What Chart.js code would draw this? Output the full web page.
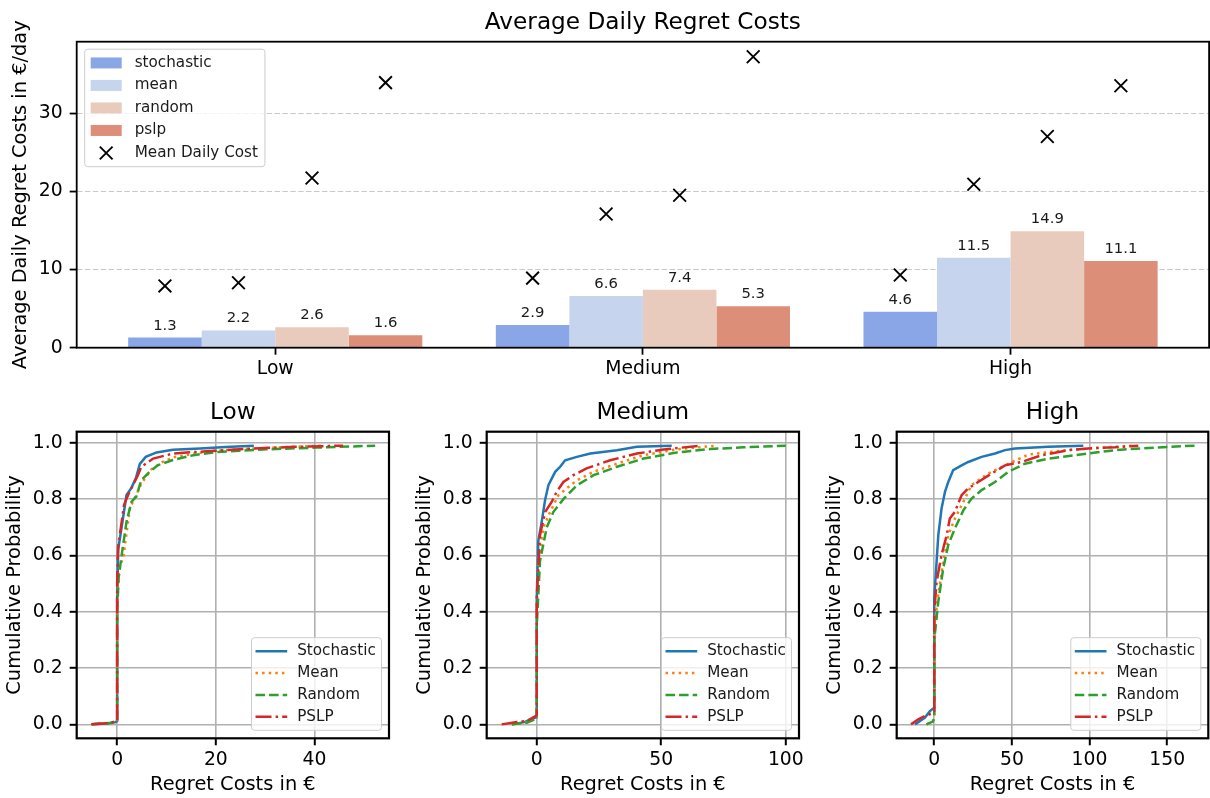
<!DOCTYPE html>
<html>
<head>
<meta charset="utf-8">
<script src="https://cdn.jsdelivr.net/npm/chart.js@4.4.0/dist/chart.umd.min.js"></script>
<style>
  html, body { margin: 0; background: #fff; overflow: hidden; }
  #fig { position: relative; width: 1210px; height: 798px; overflow: hidden; }
  canvas { position: absolute; }
</style>
</head>
<body>
<div id="fig">
  <canvas id="bars" width="1220" height="390" style="left:0;top:0"></canvas>
  <canvas id="cdfLow" width="400" height="408" style="left:0;top:390px"></canvas>
  <canvas id="cdfMedium" width="400" height="408" style="left:410px;top:390px"></canvas>
  <canvas id="cdfHigh" width="390" height="408" style="left:820px;top:390px"></canvas>
</div>
<script>
// ---- data ----
const categories = ["Low", "Medium", "High"];
const methods = ["stochastic", "mean", "random", "pslp"];
const barColors = ["#8aa6e6", "#c6d4ee", "#e9cbbd", "#dc8e79"];

// average daily regret costs (bars), per category
const avgStochastic = [1.3, 2.9, 4.6];
const avgMean = [2.2, 6.6, 11.5];
const avgRandom = [2.6, 7.4, 14.9];
const avgPslp = [1.6, 5.3, 11.1];

// mean daily cost (x markers), per category
const dailyStochastic = [7.9, 8.9, 9.3];
const dailyMean = [8.3, 17.1, 20.9];
const dailyRandom = [21.7, 19.5, 27.0];
const dailyPslp = [33.9, 37.2, 33.5];

const barTicks = [0, 10, 20, 30];
const probTicks = [0, 0.2, 0.4, 0.6, 0.8, 1.0];
const lowTicks = [0, 20, 40];
const mediumTicks = [0, 50, 100];
const highTicks = [0, 50, 100, 150];

// CDF curves: [regret cost, cumulative probability]
const cdfNames = ["Stochastic", "Mean", "Random", "PSLP"];
const cdfColors = ["#1f77b4", "#ff7f0e", "#2ca02c", "#d62728"];
const cdfDashes = [[], [2.5, 4.1], [9.5, 4.1], [16, 4.1, 2.5, 4.1]];

const lowStochastic = [[-5.2, 0], [-2, 0.003], [-0.3, 0.008], [0, 0.012], [0, 0.45], [0.2, 0.62], [0.9, 0.70], [1.9, 0.815], [2.9, 0.84], [3.8, 0.875], [4.6, 0.925], [5.8, 0.95], [8, 0.966], [11.3, 0.975], [16.8, 0.98], [22, 0.985], [27.7, 0.99]];
const lowMean = [[-5.2, 0], [-1, 0.005], [0, 0.012], [0, 0.45], [0.4, 0.55], [1.3, 0.6], [1.9, 0.68], [2.6, 0.77], [3.5, 0.8], [4.9, 0.855], [6.9, 0.905], [9, 0.93], [11.3, 0.948], [15, 0.96], [19.5, 0.972], [28, 0.98], [37, 0.987], [42, 0.99]];
const lowRandom = [[-5.2, 0], [-1, 0.006], [0, 0.015], [0, 0.4], [0.3, 0.52], [0.9, 0.60], [1.9, 0.72], [2.9, 0.79], [3.9, 0.81], [4.9, 0.868], [6.6, 0.898], [8.3, 0.921], [11.3, 0.939], [15.4, 0.956], [20.1, 0.967], [30.3, 0.977], [40.5, 0.983], [52.3, 0.99]];
const lowPslp = [[-5.2, 0], [-1.5, 0.005], [0, 0.012], [0, 0.5], [0.2, 0.63], [1.4, 0.78], [2.2, 0.814], [3.2, 0.85], [4.2, 0.885], [4.9, 0.915], [7.3, 0.944], [11.3, 0.962], [18.1, 0.97], [27.6, 0.98], [35, 0.985], [45.8, 0.99]];

const mediumStochastic = [[-10, 0], [-5, 0.008], [-0.3, 0.025], [0, 0.03], [0, 0.45], [0.6, 0.65], [2, 0.72], [3.4, 0.80], [4.7, 0.85], [6, 0.873], [7.4, 0.897], [9.4, 0.915], [11.4, 0.938], [16.1, 0.95], [21.5, 0.962], [32.2, 0.974], [40.2, 0.986], [54.2, 0.99]];
const mediumMean = [[-10, 0], [-4, 0.008], [-0.3, 0.02], [0, 0.025], [0, 0.4], [0.6, 0.58], [2.7, 0.70], [5.4, 0.755], [8.7, 0.814], [12, 0.838], [16.1, 0.867], [22.8, 0.897], [32.2, 0.926], [42.9, 0.956], [56.3, 0.977], [72.4, 0.99]];
const mediumRandom = [[-10, 0], [-4, 0.006], [-0.3, 0.02], [0, 0.025], [0, 0.35], [1.3, 0.58], [4, 0.70], [6.7, 0.755], [10.7, 0.80], [16.1, 0.849], [22.8, 0.885], [32.2, 0.915], [42.9, 0.944], [56.3, 0.966], [69.7, 0.978], [83.1, 0.984], [100, 0.99]];
const mediumPslp = [[-14.1, 0], [-8, 0.008], [-4, 0.012], [-0.3, 0.03], [0, 0.035], [0, 0.45], [1.3, 0.672], [3.4, 0.755], [6, 0.79], [8, 0.826], [10.7, 0.861], [14.7, 0.885], [20, 0.909], [29.5, 0.938], [40.2, 0.962], [50.9, 0.976], [65.6, 0.99]];

const highStochastic = [[-12.4, 0], [-6, 0.024], [-2.8, 0.047], [0, 0.059], [0, 0.45], [1.5, 0.578], [2.6, 0.672], [4.7, 0.767], [6.9, 0.826], [9, 0.861], [12.2, 0.903], [17.6, 0.92], [21.9, 0.932], [30.5, 0.95], [39.1, 0.962], [45.6, 0.974], [52, 0.98], [73.5, 0.986], [96, 0.99]];
const highMean = [[-5, 0], [-1, 0.01], [0, 0.02], [0, 0.35], [2.6, 0.46], [5.8, 0.578], [9, 0.672], [13.3, 0.731], [18.7, 0.79], [24, 0.85], [34.8, 0.891], [45.6, 0.92], [60.6, 0.958], [77.8, 0.97], [99.2, 0.98], [129.3, 0.99]];
const highRandom = [[-5, 0], [-1, 0.01], [0, 0.02], [0, 0.3], [2.6, 0.437], [5.8, 0.555], [9, 0.637], [13.3, 0.696], [18.7, 0.76], [24, 0.802], [30.5, 0.832], [39.1, 0.861], [47.7, 0.897], [58.4, 0.926], [73.5, 0.944], [99.2, 0.962], [116.4, 0.974], [137.9, 0.982], [168, 0.99]];
const highPslp = [[-15, 0], [-10.3, 0.018], [-6, 0.03], [-0.6, 0.04], [0, 0.045], [0, 0.4], [1.5, 0.507], [4.7, 0.602], [8, 0.672], [10, 0.731], [13.3, 0.755], [17.6, 0.814], [21.9, 0.838], [28.3, 0.861], [37, 0.891], [45.6, 0.92], [56.3, 0.932], [69.2, 0.956], [86.4, 0.974], [99.2, 0.98], [116.4, 0.984], [131.4, 0.99]];

Chart.defaults.font.family = "'DejaVu Sans', sans-serif";
Chart.defaults.color = "#000";

// ---- plugins ----
// black box round the plot area
const frame = {
  id: "frame",
  afterDatasetsDraw(chart, args, opts) {
    const { ctx, chartArea: a } = chart;
    ctx.save();
    ctx.strokeStyle = "#000";
    ctx.lineWidth = opts.width;
    ctx.strokeRect(a.left, a.top, a.right - a.left, a.bottom - a.top);
    ctx.restore();
  }
};

// title centred over the plot area
const axTitle = {
  id: "axTitle",
  afterDraw(chart, args, opts) {
    const { ctx, chartArea: a } = chart;
    ctx.save();
    ctx.font = "23.2px 'DejaVu Sans'";
    ctx.fillStyle = "#000";
    ctx.textAlign = "center";
    ctx.textBaseline = "middle";
    ctx.fillText(opts.text, (a.left + a.right) / 2, a.top - 19);
    ctx.restore();
  }
};

// value printed above each bar
const barValues = {
  id: "barValues",
  afterDatasetsDraw(chart, args, opts) {
    const ctx = chart.ctx;
    ctx.save();
    ctx.font = opts.size + "px 'DejaVu Sans'";
    ctx.fillStyle = "#1a1a1a";
    ctx.textAlign = "center";
    ctx.textBaseline = "alphabetic";
    chart.data.datasets.forEach((ds, i) => {
      if (ds.type !== "bar") return;
      chart.getDatasetMeta(i).data.forEach((el, j) => {
        ctx.fillText(ds.data[j].y.toFixed(1), el.x, el.y - 8);
      });
    });
    ctx.restore();
  }
};

// matplotlib-like legend box inside the plot
const boxLegend = {
  id: "boxLegend",
  afterDraw(chart, args, opts) {
    const { ctx, chartArea: a } = chart;
    const items = chart.data.datasets;
    const [padL, len, gap, padR] = opts.spacing;
    ctx.save();
    ctx.font = opts.size + "px 'DejaVu Sans'";
    const textW = Math.max(...items.map(d => ctx.measureText(d.label).width));
    const w = padL + len + gap + textW + padR;
    const h = opts.rowH * items.length + 5;
    const x0 = opts.corner === "ul" ? a.left + 8 : a.right - 7.5 - w;
    const y0 = opts.corner === "ul" ? a.top + 7.5 : a.bottom - 8 - h;

    ctx.beginPath();
    if (ctx.roundRect) ctx.roundRect(x0, y0, w, h, 3);
    else ctx.rect(x0, y0, w, h);
    ctx.fillStyle = "rgba(255,255,255,0.8)";
    ctx.fill();
    ctx.strokeStyle = "#cccccc";
    ctx.lineWidth = 1;
    ctx.stroke();

    items.forEach((d, i) => {
      const cy = y0 + 2.5 + opts.rowH * (i + 0.5);
      const hx = x0 + padL;
      const kind = d.type || chart.config.type;
      if (kind === "bar") {
        ctx.fillStyle = d.backgroundColor;
        ctx.fillRect(hx, cy - 5.5, len, 11);
      } else if (kind === "scatter") {
        const r = d.pointRadius * Math.SQRT1_2;
        const cx = hx + len / 2;
        ctx.strokeStyle = d.borderColor;
        ctx.lineWidth = d.pointBorderWidth;
        ctx.beginPath();
        ctx.moveTo(cx - r, cy - r); ctx.lineTo(cx + r, cy + r);
        ctx.moveTo(cx - r, cy + r); ctx.lineTo(cx + r, cy - r);
        ctx.stroke();
      } else {
        ctx.strokeStyle = d.borderColor;
        ctx.lineWidth = d.borderWidth;
        ctx.lineCap = "butt";
        ctx.setLineDash(d.borderDash || []);
        ctx.beginPath();
        ctx.moveTo(hx, cy); ctx.lineTo(hx + len, cy);
        ctx.stroke();
        ctx.setLineDash([]);
      }
      ctx.fillStyle = "#1a1a1a";
      ctx.textAlign = "left";
      ctx.textBaseline = "middle";
      ctx.fillText(d.label, hx + len + gap, cy);
    });
    ctx.restore();
  }
};

// ---- top chart: bars + mean daily cost markers ----
const groupWidth = 0.8;
const avgByMethod = [avgStochastic, avgMean, avgRandom, avgPslp];
const dailyByMethod = [dailyStochastic, dailyMean, dailyRandom, dailyPslp];

const barSets = methods.map((m, k) => ({
  type: "bar",
  label: m,
  data: avgByMethod[k].map((v, i) => ({ x: i, y: v })),
  backgroundColor: barColors[k],
  categoryPercentage: groupWidth,
  barPercentage: 1.0
}));

const markerPts = [];
categories.forEach((c, i) => {
  dailyByMethod.forEach((arr, k) => {
    markerPts.push({ x: i + (k - 1.5) * groupWidth / methods.length, y: arr[i] });
  });
});

const markerSet = {
  type: "scatter",
  label: "Mean Daily Cost",
  data: markerPts,
  pointStyle: "crossRot",
  pointRadius: 9,
  pointBorderWidth: 1.9,
  borderColor: "#000",
  backgroundColor: "#000",
  order: -1
};

new Chart(document.getElementById("bars"), {
  type: "bar",
  data: { datasets: [...barSets, markerSet] },
  options: {
    responsive: false,
    animation: false,
    layout: { padding: { top: 41.7, right: 0 } },
    plugins: {
      legend: { display: false },
      tooltip: { enabled: false },
      axTitle: { text: "Average Daily Regret Costs" },
      frame: { width: 1.8 },
      barValues: { size: 14.8 },
      boxLegend: { corner: "ul", rowH: 22.5, size: 15.2, spacing: [6, 31, 13, 7] }
    },
    scales: {
      x: {
        type: "linear",
        min: -0.54,
        max: 2.54,
        offset: false,
        afterFit: s => { s.height = 42.3; },
        afterBuildTicks: s => { s.ticks = categories.map((c, i) => ({ value: i })); },
        ticks: { callback: v => categories[v], font: { size: 18.8 }, padding: 3, maxRotation: 0, autoSkip: false },
        grid: { offset: false, drawOnChartArea: false, tickLength: 7, tickWidth: 1.8, tickColor: "#000" },
        border: { display: false }
      },
      y: {
        min: 0,
        max: 39.13,
        afterFit: s => { s.width = 76.7; },
        afterBuildTicks: s => { s.ticks = barTicks.map(v => ({ value: v })); },
        ticks: { font: { size: 18.8 }, padding: 7 },
        grid: { color: "rgba(176,176,176,0.7)", lineWidth: 1.1, tickLength: 7, tickWidth: 1.8, tickColor: "#000" },
        border: { display: false, dash: [5.5, 2.4] },
        title: {
          display: true,
          text: "Average Daily Regret Costs in €/day",
          font: { size: 19.4 },
          padding: { top: 9.8, bottom: 0 }
        }
      }
    }
  },
  plugins: [frame, axTitle, barValues, boxLegend]
});

// ---- bottom charts: CDFs ----
function cdfChart(id, title, curves, xMin, xMax, xTicks, padRight) {
  return new Chart(document.getElementById(id), {
    type: "line",
    data: {
      datasets: curves.map((pts, k) => ({
        label: cdfNames[k],
        data: pts.map(p => ({ x: p[0], y: p[1] })),
        borderColor: cdfColors[k],
        borderWidth: 2.5,
        borderDash: cdfDashes[k],
        borderCapStyle: "butt",
        pointRadius: 0,
        tension: 0,
        fill: false,
        order: curves.length - 1 - k
      }))
    },
    options: {
      responsive: false,
      animation: false,
      layout: { padding: { top: 41.7, right: padRight } },
      plugins: {
        legend: { display: false },
        tooltip: { enabled: false },
        axTitle: { text: title },
        frame: { width: 2.2 },
        boxLegend: { corner: "lr", rowH: 21.9, size: 15.2, spacing: [4, 31.7, 10, 5.7] }
      },
      scales: {
        x: {
          type: "linear",
          min: xMin,
          max: xMax,
          afterFit: s => { s.height = 59.7; },
          afterBuildTicks: s => { s.ticks = xTicks.map(v => ({ value: v })); },
          ticks: { font: { size: 18.8 }, padding: 4, maxRotation: 0, autoSkip: false },
          grid: { color: "#b0b0b0", lineWidth: 1.6, tickLength: 7, tickWidth: 2, tickColor: "#000" },
          border: { display: false },
          title: { display: true, text: "Regret Costs in €", font: { size: 19.4 }, padding: { top: 0, bottom: 1 } }
        },
        y: {
          min: -0.0495,
          max: 1.0395,
          afterFit: s => { s.width = 76.7; },
          afterBuildTicks: s => { s.ticks = probTicks.map(v => ({ value: v })); },
          ticks: { font: { size: 18.8 }, padding: 7, callback: v => v.toFixed(1) },
          grid: { color: "#b0b0b0", lineWidth: 1.6, tickLength: 7, tickWidth: 2, tickColor: "#000" },
          border: { display: false },
          title: { display: true, text: "Cumulative Probability", font: { size: 19.4 }, padding: { top: 3.8, bottom: 0 } }
        }
      }
    },
    plugins: [frame, axTitle, boxLegend]
  });
}

cdfChart("cdfLow", "Low", [lowStochastic, lowMean, lowRandom, lowPslp], -8.2, 55.1, lowTicks, 11);
cdfChart("cdfMedium", "Medium", [mediumStochastic, mediumMean, mediumRandom, mediumPslp], -20.1, 105.3, mediumTicks, 11);
cdfChart("cdfHigh", "High", [highStochastic, highMean, highRandom, highPslp], -24.2, 176.5, highTicks, 1.7);
</script>
</body>
</html>
